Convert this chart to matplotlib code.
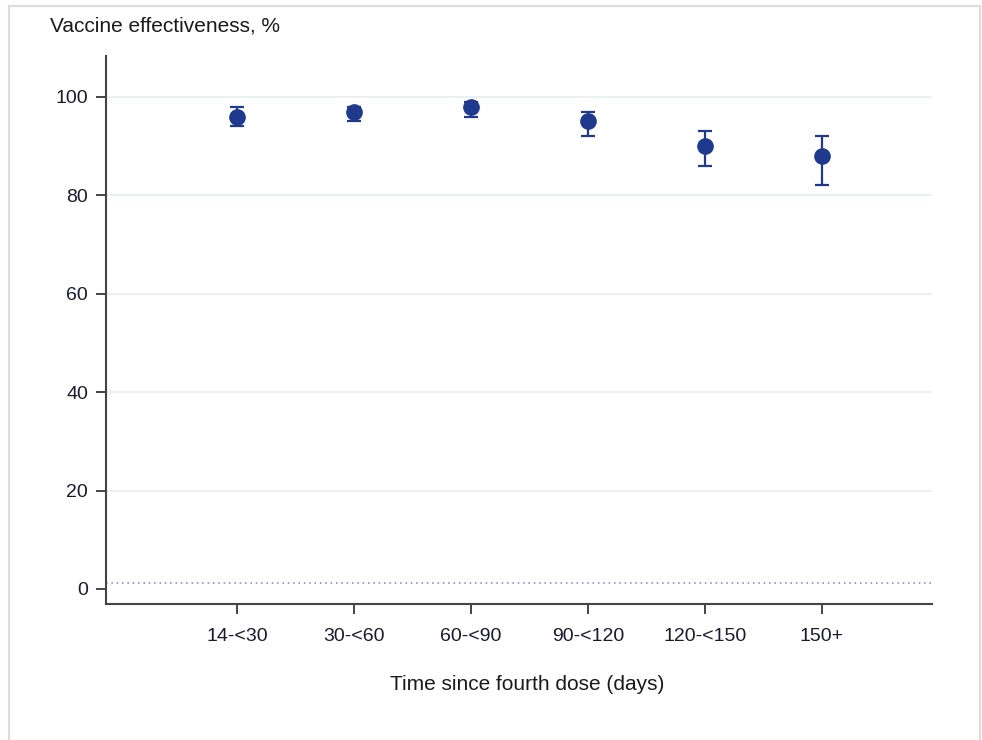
import matplotlib
matplotlib.use("Agg")
import matplotlib.pyplot as plt
from matplotlib.patches import Rectangle

categories = ["14-<30", "30-<60", "60-<90", "90-<120", "120-<150", "150+"]
ve = [96, 97, 98, 95, 90, 88]
ci_low = [94, 95, 96, 92, 86, 82]
ci_high = [98, 98, 99, 97, 93, 92]
yticks = [0, 20, 40, 60, 80, 100]
ref_line = 1.2

plt.rcParams['font.family'] = ['Liberation Sans', 'DejaVu Sans']

W, H = 982, 740
fig = plt.figure(figsize=(W / 100, H / 100), dpi=100)
ax = fig.add_axes([106 / W, 1 - 604 / H, (932 - 106) / W, (604 - 56) / H])

# frame border
fig.patches.append(Rectangle((9 / W, -0.05), (980 - 9) / W, 1 - 6 / H + 0.05,
                             transform=fig.transFigure, fill=False,
                             edgecolor='#dddddd', linewidth=1.6))

color = '#1f3a8c'
x = list(range(len(categories)))
yerr = [[v - l for v, l in zip(ve, ci_low)], [h - v for v, h in zip(ve, ci_high)]]

for t in yticks[1:]:
    ax.axhline(t, color='#e6efef', linewidth=1.2, zorder=0)
ax.axhline(ref_line, color='#8a7bbf', linewidth=1.1, linestyle=(0, (1, 2.5)), zorder=1)

ax.errorbar(x, ve, yerr=yerr, fmt='o', color=color, markersize=11,
            elinewidth=1.6, capsize=5, capthick=1.6, zorder=3)

ax.set_xlim(-1.12, 5.94)
ax.set_ylim(-3.05, 108.3)
ax.set_xticks(x)
ax.set_xticklabels(categories)
ax.set_yticks(yticks)

for s in ['top', 'right']:
    ax.spines[s].set_visible(False)
for s in ['left', 'bottom']:
    ax.spines[s].set_color('#444444')
    ax.spines[s].set_linewidth(1.5)

ax.tick_params(axis='both', length=7, width=1.4, color='#444444',
               labelsize=14, labelcolor='#1a1a2e', pad=6)
ax.tick_params(axis='x', pad=10)

fig.text(50 / W, 1 - 26 / H, "Vaccine effectiveness, %", fontsize=15,
         color='#1a1a1a', ha='left', va='center')
fig.text(527 / W, 1 - 684 / H, "Time since fourth dose (days)", fontsize=15,
         color='#1a1a1a', ha='center', va='center')

fig.savefig("out.png", dpi=100)
